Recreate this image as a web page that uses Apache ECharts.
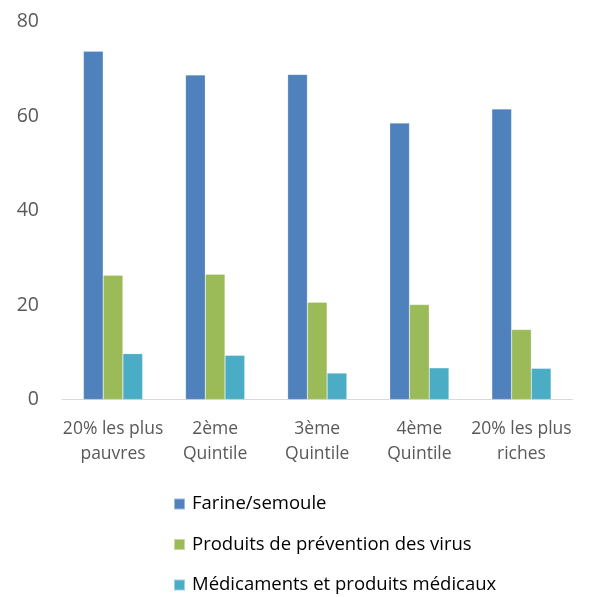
<!DOCTYPE html>
<html><head><meta charset="utf-8">
<script src="https://cdn.jsdelivr.net/npm/echarts@6/dist/echarts.min.js"></script>
<style>html,body{margin:0;padding:0;background:#fff}#c{width:616px;height:597px}</style>
</head><body><div id="c"></div>
<script>
const categories = ['20% les plus\npauvres', '2ème\nQuintile', '3ème\nQuintile', '4ème\nQuintile', '20% les plus\nriches'];
const seriesNames = ['Farine/semoule', 'Produits de prévention des virus', 'Médicaments et produits médicaux'];
const farine = [73.7, 68.7, 68.8, 58.5, 61.5];
const prevention = [26.3, 26.5, 20.6, 20.1, 14.8];
const medicaments = [9.7, 9.35, 5.6, 6.7, 6.6];
const yTicks = [0, 20, 40, 60, 80];
const colors = ['#4F81BD', '#9BBB59', '#4BACC6'];
const font = 'Open Sans';
const chart = echarts.init(document.getElementById('c'));
const mk = (name, data, i) => ({
  name, type: 'bar', data, barGap: '0%', barCategoryGap: '42%',
  itemStyle: { color: colors[i], borderColor: 'rgba(255,255,255,0.45)', borderWidth: 0.5 },
  animation: false
});
chart.setOption({
  animation: false,
  grid: { left: 62, right: 43.5, top: 21.5, bottom: 197.5 },
  xAxis: {
    type: 'category', data: categories,
    axisLine: { lineStyle: { color: '#D9D9D9', width: 1 } },
    axisTick: { show: false },
    axisLabel: { color: '#595959', fontFamily: font, fontSize: 17.5, lineHeight: 25, margin: 17, interval: 0 }
  },
  yAxis: {
    type: 'value', min: yTicks[0], max: yTicks[yTicks.length - 1], interval: 20,
    splitLine: { show: false }, axisLine: { show: false }, axisTick: { show: false },
    axisLabel: { color: '#595959', fontFamily: font, fontSize: 19.5, margin: 23 }
  },
  legend: {
    orient: 'vertical', left: 173, top: 494, padding: 0, height: 104,
    itemWidth: 11, itemHeight: 11, itemGap: 20.5,
    icon: 'rect',
    textStyle: { color: '#000', fontFamily: font, fontSize: 18.5, lineHeight: 20, padding: [0, 0, 0, 2] },
    data: seriesNames
  },
  series: [mk(seriesNames[0], farine, 0), mk(seriesNames[1], prevention, 1), mk(seriesNames[2], medicaments, 2)]
});
</script></body></html>
